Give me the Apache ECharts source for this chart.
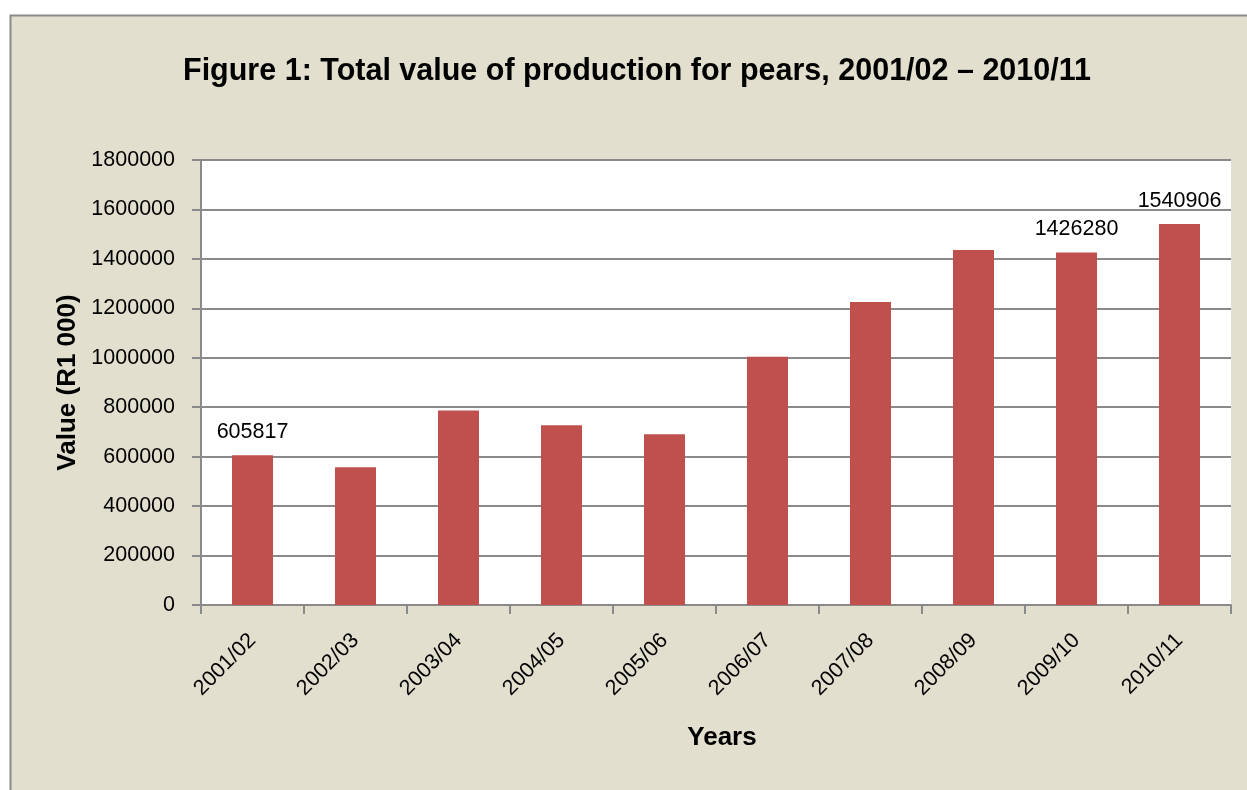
<!DOCTYPE html>
<html>
<head>
<meta charset="utf-8">
<script src="https://cdn.jsdelivr.net/npm/echarts@6/dist/echarts.min.js"></script>
<style>
html,body{margin:0;padding:0;background:#fff;}
#c{width:1247px;height:790px;}
</style>
</head>
<body>
<div id="c"></div>
<script>
const titleText = 'Figure 1: Total value of production for pears, 2001/02 \u2013 2010/11';
const categories = ['2001/02','2002/03','2003/04','2004/05','2005/06','2006/07','2007/08','2008/09','2009/10','2010/11'];
const values = [605817, 557000, 787000, 727000, 691000, 1004000, 1226000, 1436000, 1426280, 1540906];
const labelledCategories = ['2001/02','2009/10','2010/11'];
const yAxisName = 'Value (R1 000)';
const xAxisName = 'Years';

const FONT = "'Liberation Sans', Arial, sans-serif";
const chart = echarts.init(document.getElementById('c'), null, {renderer:'canvas'});

const seriesData = values.map((v, i) => ({
  value: v,
  label: { show: labelledCategories.indexOf(categories[i]) >= 0 }
}));

chart.setOption({
  backgroundColor: '#ffffff',
  animation: false,
  textStyle: { fontFamily: FONT },
  graphic: [{
    type: 'rect', z: -10, silent: true,
    shape: { x: 10.5, y: 15.5, width: 1300, height: 850 },
    style: { fill: '#E2DFCF', stroke: '#8a8a8a', lineWidth: 2 }
  }],
  title: {
    text: titleText,
    left: 183, top: 56, padding: 0,
    textStyle: { fontFamily: FONT, fontWeight: 'bold', fontSize: 30.5, color: '#000' }
  },
  grid: { left: 201, right: 16, top: 160, bottom: 185, show: true, backgroundColor: '#ffffff', borderWidth: 0 },
  xAxis: {
    type: 'category',
    data: categories,
    name: xAxisName,
    nameLocation: 'middle',
    nameGap: 120,
    nameTextStyle: { fontFamily: FONT, fontWeight: 'bold', fontSize: 26, color: '#000', padding: [0, 0, 0, 12] },
    axisLine: { lineStyle: { color: '#8a8a8a', width: 2 } },
    axisTick: { show: true, alignWithLabel: false, length: 9, lineStyle: { color: '#8a8a8a', width: 2 } },
    axisLabel: { rotate: 45, fontSize: 21.5, color: '#000', margin: 32, fontFamily: FONT, interval: 0 }
  },
  yAxis: {
    type: 'value',
    min: 0, max: 1800000, interval: 200000,
    name: yAxisName,
    nameLocation: 'middle',
    nameGap: 103,
    nameRotate: 90,
    nameTextStyle: { fontFamily: FONT, fontWeight: 'bold', fontSize: 26, color: '#000' },
    axisLine: { show: true, lineStyle: { color: '#8a8a8a', width: 2 } },
    axisTick: { show: true, length: 9, lineStyle: { color: '#8a8a8a', width: 2 } },
    axisLabel: { fontSize: 21.5, color: '#000', margin: 26, fontFamily: FONT, formatter: v => String(v) },
    splitLine: { show: true, lineStyle: { color: '#8a8a8a', width: 2 } }
  },
  series: [{
    type: 'bar',
    data: seriesData,
    barWidth: 41,
    itemStyle: { color: '#C0504D' },
    label: { position: 'top', distance: 12, fontSize: 21.5, color: '#000', fontFamily: FONT }
  }]
});
</script>
</body>
</html>
